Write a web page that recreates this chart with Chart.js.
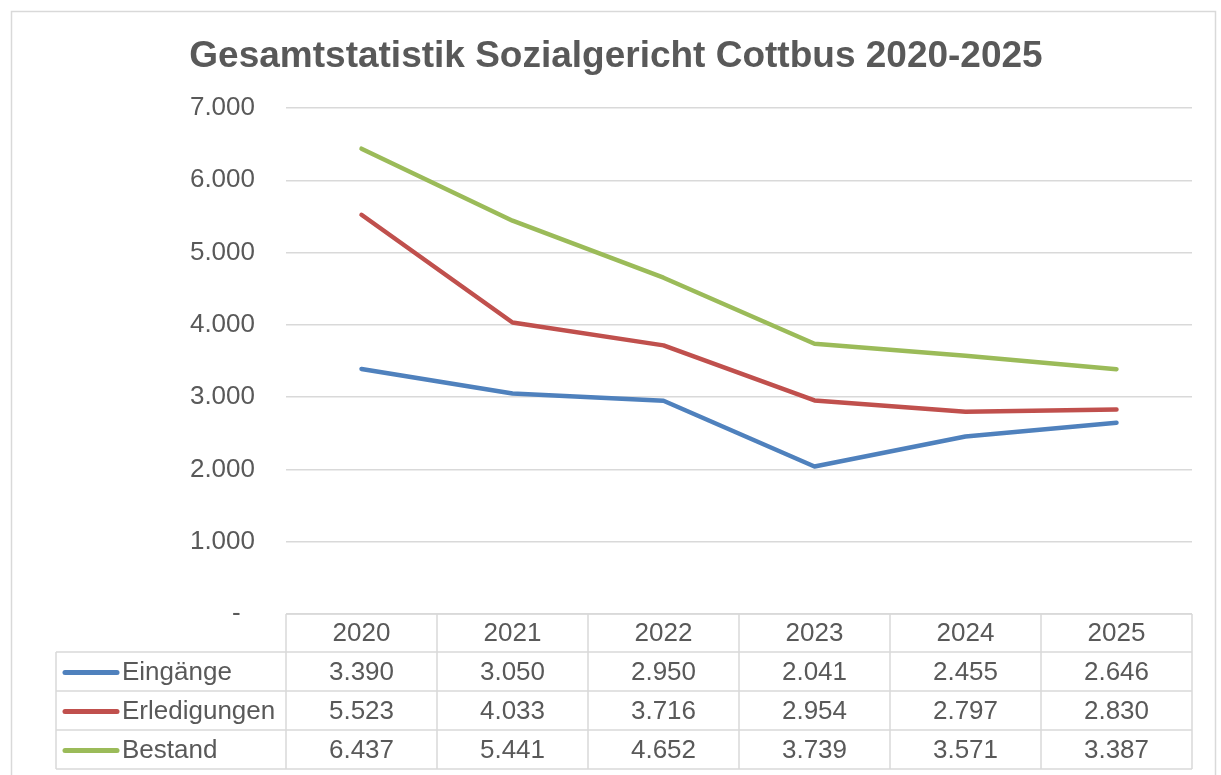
<!DOCTYPE html>
<html>
<head>
<meta charset="utf-8">
<script src="https://cdn.jsdelivr.net/npm/chart.js@4/dist/chart.umd.min.js"></script>
<style>
  html, body { margin: 0; padding: 0; background: #fff; }
  canvas { display: block; }
</style>
</head>
<body>
<canvas id="chart" width="1221" height="775"></canvas>
<script>
// Data (values from its data table)
const years = ['2020', '2021', '2022', '2023', '2024', '2025'];
const eingaenge = [3390, 3050, 2950, 2041, 2455, 2646];
const erledigungen = [5523, 4033, 3716, 2954, 2797, 2830];
const bestand = [6437, 5441, 4652, 3739, 3571, 3387];
const seriesNames = ['Eingänge', 'Erledigungen', 'Bestand'];
const seriesColors = ['#4f81bd', '#c0504d', '#9bbb59'];

const TEXT = '#595959';
const GRID = '#d9d9d9';
const FONT = '"Liberation Sans", Arial, sans-serif';

function fmt(v) {
    return v.toLocaleString('de-DE');
}

// Frame, title and the data table under the plot
const tablePlugin = {
    id: 'dataTable',
    afterDraw(chart) {
        const ctx = chart.ctx;
        const area = chart.chartArea;
        const x = chart.scales.x;
        const colW = area.width / years.length;
        const headTop = area.bottom;
        const headH = 38;
        const rowH = 39;
        const tableLeft = 56;

        ctx.save();

        // outer frame
        ctx.strokeStyle = GRID;
        ctx.lineWidth = 1.5;
        ctx.strokeRect(11.5, 11.5, 1204, 800);

        // title
        ctx.fillStyle = TEXT;
        ctx.font = 'bold 37px ' + FONT;
        ctx.textAlign = 'center';
        ctx.textBaseline = 'alphabetic';
        ctx.fillText('Gesamtstatistik Sozialgericht Cottbus 2020-2025', 616, 67);

        // table grid
        ctx.strokeStyle = GRID;
        ctx.lineWidth = 1.5;
        const rowsBottom = headTop + headH + rowH * seriesNames.length;
        ctx.beginPath();
        ctx.moveTo(area.left, headTop);
        ctx.lineTo(area.right, headTop);
        for (let r = 0; r <= seriesNames.length; r++) {
            const y = headTop + headH + rowH * r;
            ctx.moveTo(tableLeft, y);
            ctx.lineTo(area.right, y);
        }
        ctx.moveTo(tableLeft, headTop + headH);
        ctx.lineTo(tableLeft, rowsBottom);
        for (let c = 0; c <= years.length; c++) {
            const cx = area.left + colW * c;
            ctx.moveTo(cx, headTop);
            ctx.lineTo(cx, rowsBottom);
        }
        ctx.stroke();

        // header labels
        ctx.fillStyle = TEXT;
        ctx.font = '26px ' + FONT;
        ctx.textAlign = 'center';
        ctx.textBaseline = 'middle';
        years.forEach((yr, i) => {
            ctx.fillText(yr, x.getPixelForValue(i), headTop + headH / 2 + 1);
        });

        // rows: legend key, name, values
        chart.data.datasets.forEach((ds, r) => {
            const cy = headTop + headH + rowH * r + rowH / 2 + 1;
            ctx.strokeStyle = ds.borderColor;
            ctx.lineWidth = 5;
            ctx.lineCap = 'round';
            ctx.beginPath();
            ctx.moveTo(65, cy);
            ctx.lineTo(117, cy);
            ctx.stroke();
            ctx.fillStyle = TEXT;
            ctx.textAlign = 'left';
            ctx.fillText(ds.label, 122, cy);
            ctx.textAlign = 'center';
            ds.data.forEach((v, i) => {
                ctx.fillText(fmt(v), x.getPixelForValue(i), cy);
            });
        });

        ctx.restore();
    }
};

const lineStyle = {
    borderWidth: 4.5,
    pointRadius: 0,
    tension: 0,
    fill: false,
    borderCapStyle: 'round',
    borderJoinStyle: 'round'
};

new Chart(document.getElementById('chart').getContext('2d'), {
    type: 'line',
    data: {
        labels: years,
        datasets: [
            { label: seriesNames[0], data: eingaenge, borderColor: seriesColors[0], ...lineStyle },
            { label: seriesNames[1], data: erledigungen, borderColor: seriesColors[1], ...lineStyle },
            { label: seriesNames[2], data: bestand, borderColor: seriesColors[2], ...lineStyle }
        ]
    },
    options: {
        responsive: false,
        animation: false,
        devicePixelRatio: 1,
        layout: { padding: { left: 0, top: 108, right: 29, bottom: 161 } },
        plugins: {
            legend: { display: false },
            title: { display: false },
            tooltip: { enabled: false }
        },
        scales: {
            x: {
                display: false,
                offset: true
            },
            y: {
                min: 0,
                max: 7000,
                ticks: {
                    stepSize: 1000,
                    padding: 31,
                    color: TEXT,
                    font: { family: FONT, size: 26 },
                    callback: (v) => v === 0 ? '-  ' : fmt(v)
                },
                grid: { color: GRID, lineWidth: 1.5, drawTicks: false },
                border: { display: false },
                afterFit(scale) { scale.width = 286; }
            }
        }
    },
    plugins: [tablePlugin]
});
</script>
</body>
</html>
